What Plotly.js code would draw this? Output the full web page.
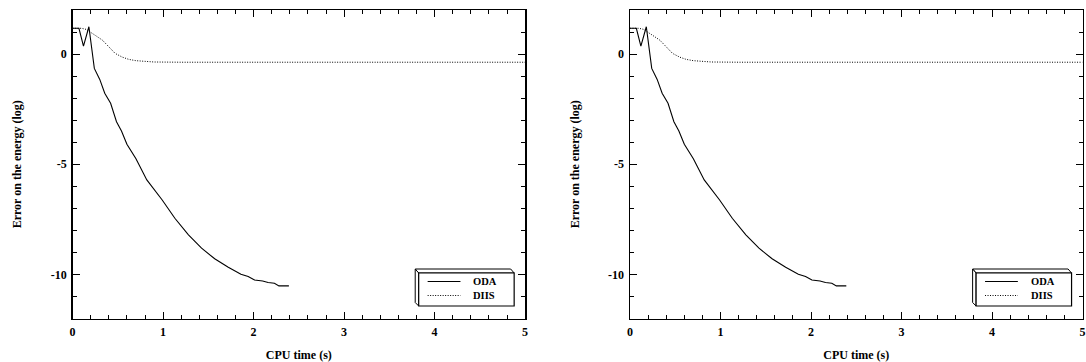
<!DOCTYPE html>
<html>
<head>
<meta charset="utf-8">
<script src="https://cdn.plot.ly/plotly-3.0.1.min.js"></script>
<style>html,body{margin:0;padding:0;background:#fff;}#chart{width:1086px;height:362px;}</style>
</head>
<body>
<div id="chart"></div>
<script>
// ---- data ----
const seriesNames = ["ODA", "DIIS"];
const odaTime = [0, 0.07, 0.12, 0.18, 0.24, 0.30, 0.355, 0.42, 0.485, 0.54, 0.60, 0.70, 0.82, 0.99, 1.13, 1.28, 1.425, 1.57, 1.72, 1.86, 1.94, 2.01, 2.10, 2.16, 2.23, 2.28, 2.39];
const odaErr  = [1.17, 1.17, 0.36, 1.24, -0.65, -1.15, -1.78, -2.23, -3.07, -3.49, -4.09, -4.75, -5.71, -6.62, -7.45, -8.20, -8.81, -9.29, -9.67, -9.99, -10.09, -10.25, -10.30, -10.37, -10.40, -10.52, -10.52];
const diisTime = [0, 0.10, 0.15, 0.20, 0.25, 0.33, 0.40, 0.47, 0.55, 0.62, 0.70, 0.77, 0.90, 1.20, 2, 3, 4, 5];
const diisErr  = [1.17, 1.17, 1.12, 1.00, 0.85, 0.63, 0.35, 0.03, -0.14, -0.24, -0.30, -0.33, -0.36, -0.37, -0.37, -0.37, -0.37, -0.37];
const xTickVals = [0, 1, 2, 3, 4, 5];
const yTickVals = [-10, -5, 0];
const xTitle = "CPU time (s)";
const yTitle = "Error on the energy (log)";

// ---- layout helpers ----
const W = 1086, H = 362;
const px = v => v / W;
const py = v => 1 - v / H;
const FONT = "Liberation Serif, Times New Roman, serif";
const tickFont = {family: FONT, size: 12, color: "#000", weight: "bold"};

const panels = [
  {xa: "x", ya: "y", xl: 70, xr: 525},
  {xa: "x2", ya: "y2", xl: 630.5, xr: 1085.5}
];

const traces = [];
panels.forEach(p => {
  traces.push({x: odaTime, y: odaErr, xaxis: p.xa, yaxis: p.ya, mode: "lines", name: seriesNames[0],
    line: {color: "#000", width: 1.1}, showlegend: false, hoverinfo: "skip"});
  traces.push({x: diisTime, y: diisErr, xaxis: p.xa, yaxis: p.ya, mode: "lines", name: seriesNames[1],
    line: {color: "#000", width: 1, dash: "1px,1.5px"}, showlegend: false, hoverinfo: "skip"});
});

function xAxis(p) {
  return {
    domain: [px(p.xl), px(p.xr)], range: [0, 5], anchor: p.ya,
    tickvals: xTickVals, ticktext: xTickVals.map(String),
    ticks: "inside", ticklen: 7, tickwidth: 1, tickcolor: "#000",
    minor: {dtick: 0.2, ticks: "inside", ticklen: 4, tickwidth: 1, tickcolor: "#000"},
    mirror: "allticks", showline: true, linecolor: "#000", linewidth: 1.5,
    showgrid: false, zeroline: false, tickfont: tickFont, ticklabelstandoff: 2,
    title: {text: xTitle, font: {family: FONT, size: 12, color: "#000", weight: "bold"}, standoff: 13},
    automargin: true
  };
}
function yAxis(p) {
  return {
    domain: [py(318.5), py(10)], range: [-12, 2], anchor: p.xa,
    tickvals: yTickVals, ticktext: yTickVals.map(String),
    ticks: "inside", ticklen: 7, tickwidth: 1, tickcolor: "#000",
    minor: {dtick: 1, ticks: "inside", ticklen: 4, tickwidth: 1, tickcolor: "#000"},
    mirror: "allticks", showline: true, linecolor: "#000", linewidth: 1.5,
    showgrid: false, zeroline: false, tickfont: tickFont, ticklabelstandoff: 2,
    title: {text: yTitle, font: {family: FONT, size: 12, color: "#000", weight: "bold"}, standoff: 26},
    automargin: true
  };
}

// manual legend boxes (3-D bevel style)
const shapes = [], annotations = [];
panels.forEach(p => {
  const o = p.xl - 70;
  const L0 = 414.5 + o, L1 = 418 + o, R = 514 + o, T0 = 269, T1 = 273, B = 306;
  const P = (x, y) => px(x) + "," + py(y);
  shapes.push({type: "path", xref: "paper", yref: "paper",
    path: `M${P(L0,T0)} L${P(R-3.5,T0)} L${P(R,T1)} L${P(L1,T1)} Z`,
    fillcolor: "#fff", line: {color: "#000", width: 1}});
  shapes.push({type: "path", xref: "paper", yref: "paper",
    path: `M${P(L0,T0)} L${P(L1,T1)} L${P(L1,B)} L${P(L0,B-3.5)} Z`,
    fillcolor: "#fff", line: {color: "#000", width: 1}});
  shapes.push({type: "rect", xref: "paper", yref: "paper",
    x0: px(L1), x1: px(R), y0: py(B), y1: py(T1),
    fillcolor: "#fff", line: {color: "#000", width: 1.2}});
  const rows = [281.5, 295.5];
  seriesNames.forEach((nm, i) => {
    shapes.push({type: "line", xref: "paper", yref: "paper",
      x0: px(427 + o), x1: px(460 + o), y0: py(rows[i]), y1: py(rows[i]),
      line: {color: "#000", width: i === 0 ? 1.1 : 1, dash: i === 0 ? "solid" : "1px,1.5px"}});
    annotations.push({xref: "paper", yref: "paper", x: px(472 + o), y: py(rows[i]),
      xanchor: "left", yanchor: "middle", showarrow: false, text: nm, borderpad: 0,
      font: {family: FONT, size: 10.5, color: "#000", weight: "bold"}});
  });
});

const layout = {
  width: W, height: H,
  margin: {l: 0, r: 0, t: 0, b: 0},
  paper_bgcolor: "#fff", plot_bgcolor: "#fff",
  showlegend: false,
  xaxis: xAxis(panels[0]), yaxis: yAxis(panels[0]),
  xaxis2: xAxis(panels[1]), yaxis2: yAxis(panels[1]),
  shapes: shapes, annotations: annotations
};

Plotly.newPlot("chart", traces, layout, {staticPlot: true, displayModeBar: false});
</script>
</body>
</html>
